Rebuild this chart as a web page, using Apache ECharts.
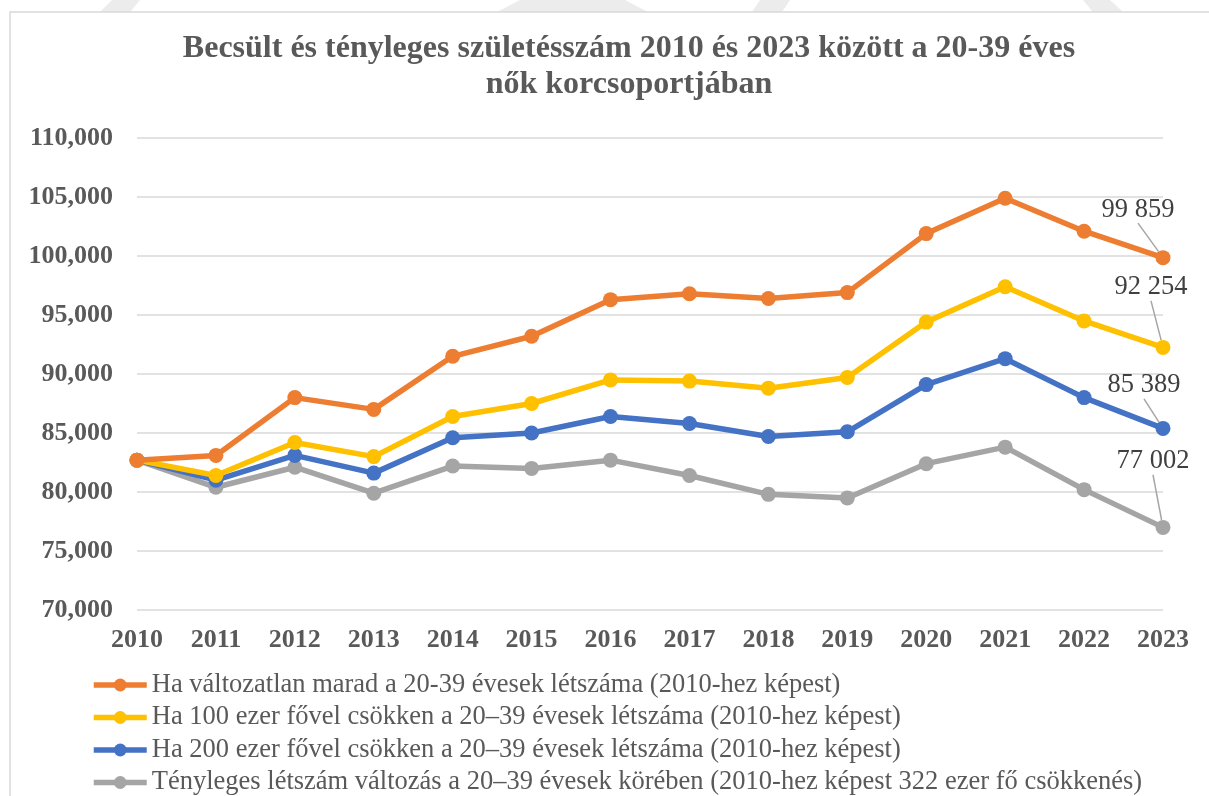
<!DOCTYPE html>
<html>
<head>
<meta charset="utf-8">
<script src="https://cdn.jsdelivr.net/npm/echarts@6/dist/echarts.min.js"></script>
<style>
  html, body { margin: 0; padding: 0; background: #fff; }
  #chart { width: 1209px; height: 796px; }
</style>
</head>
<body>
<div id="chart"></div>
<script>
const years = ['2010', '2011', '2012', '2013', '2014', '2015', '2016', '2017', '2018', '2019', '2020', '2021', '2022', '2023']

const seriesNames = [
  'Ha változatlan marad a 20-39 évesek létszáma (2010-hez képest)',
  'Ha 100 ezer fővel csökken a 20–39 évesek létszáma (2010-hez képest)',
  'Ha 200 ezer fővel csökken a 20–39 évesek létszáma (2010-hez képest)',
  'Tényleges létszám változás a 20–39 évesek körében (2010-hez képest 322 ezer fő csökkenés)'
]

const unchanged = [82700, 83100, 88000, 87000, 91500, 93200, 96300, 96800, 96400, 96900, 101900, 104900, 102100, 99859]
const minus100k = [82700, 81400, 84200, 83000, 86400, 87500, 89500, 89400, 88800, 89700, 94400, 97400, 94500, 92254]
const minus200k = [82700, 81000, 83100, 81600, 84600, 85000, 86400, 85800, 84700, 85100, 89100, 91300, 88000, 85389]
const actual = [82700, 80400, 82100, 79900, 82200, 82000, 82700, 81400, 79800, 79500, 82400, 83800, 80200, 77002]

const colors = ['#ED7D31', '#FFC000', '#4472C4', '#A5A5A5']
// label offsets for the end-of-line values
const labelShift = [[-25, -22], [-12, -34], [-19, -17], [-10, -40]]

const serif = '"Liberation Serif", "Times New Roman", serif'

function makeSeries(name, values, i) {
  const last = values.length - 1
  return {
    name: name,
    type: 'line',
    data: values.map((v, j) => {
      if (j !== last) return v
      return {
        value: v,
        label: {
          show: true,
          position: 'top',
          fontFamily: serif,
          fontSize: 26.5,
          color: '#404040',
          formatter: p => String(p.value).replace(/\B(?=(\d{3})+(?!\d))/g, ' ')
        },
        labelLine: {
          show: true,
          lineStyle: { color: '#a6a6a6', width: 1.5 }
        }
      }
    }),
    symbol: 'circle',
    symbolSize: 15,
    color: colors[i],
    lineStyle: { width: 5.5, color: colors[i] },
    itemStyle: { color: colors[i] },
    labelLayout: { dx: labelShift[i][0], dy: labelShift[i][1] },
    labelLine: { show: true, lineStyle: { color: '#a6a6a6', width: 1.5 } },
    z: 10 - i
  }
}

// one legend per row so the last row can run off the bottom like in the original
const legendRows = seriesNames.map((name, i) => ({
  orient: 'vertical',
  left: 91,
  top: 671 + i * 32.5,
  padding: 0,
  itemWidth: 53,
  itemHeight: 16,
  data: [name],
  lineStyle: { width: 5.5 },
  textStyle: {
    fontFamily: serif,
    fontSize: 26.5,
    lineHeight: 28,
    color: '#595959'
  }
}))

const myChart = echarts.init(document.getElementById('chart'))

myChart.setOption({
  backgroundColor: '#fff',
  animation: false,
  title: {
    text: 'Becsült és tényleges születésszám 2010 és 2023 között a 20-39 éves\nnők korcsoportjában',
    left: 624,
    top: 26,
    textAlign: 'center',
    textStyle: {
      fontFamily: serif,
      fontWeight: 'bold',
      fontSize: 32,
      lineHeight: 36,
      color: '#595959'
    }
  },
  graphic: [
    { type: 'polygon', shape: { points: [[112, 0], [140, 0], [130, 12], [100, 12]] }, style: { fill: '#ececec' } },
    { type: 'polygon', shape: { points: [[520, 0], [625, 0], [648, 12], [497, 12]] }, style: { fill: '#ececec' } },
    { type: 'polygon', shape: { points: [[760, 0], [790, 0], [782, 12], [752, 12]] }, style: { fill: '#ececec' } },
    { type: 'polygon', shape: { points: [[1083, 0], [1110, 0], [1123, 12], [1093, 12]] }, style: { fill: '#ececec' } },
    {
      type: 'rect',
      shape: { x: 10, y: 12, width: 1240, height: 820 },
      style: { fill: 'none', stroke: '#d9d9d9', lineWidth: 1.5 }
    }
  ],
  legend: legendRows,
  grid: {
    left: 137,
    right: 46,
    top: 138,
    bottom: 186,
    containLabel: false
  },
  xAxis: {
    type: 'category',
    data: years,
    boundaryGap: false,
    axisLine: { show: false },
    axisTick: { show: false },
    axisLabel: {
      margin: 17,
      fontFamily: serif,
      fontWeight: 'bold',
      fontSize: 26,
      color: '#595959'
    }
  },
  yAxis: {
    type: 'value',
    min: 70000,
    max: 110000,
    interval: 5000,
    axisLine: { show: false },
    axisTick: { show: false },
    axisLabel: {
      margin: 24,
      fontFamily: serif,
      fontWeight: 'bold',
      fontSize: 26,
      color: '#595959',
      formatter: v => v.toLocaleString('en-US')
    },
    splitLine: {
      show: true,
      lineStyle: { color: '#d9d9d9', width: 1.5 }
    }
  },
  series: [
    makeSeries(seriesNames[0], unchanged, 0),
    makeSeries(seriesNames[1], minus100k, 1),
    makeSeries(seriesNames[2], minus200k, 2),
    makeSeries(seriesNames[3], actual, 3)
  ]
})

window.addEventListener('resize', () => {
  myChart.resize()
})
</script>
</body>
</html>
